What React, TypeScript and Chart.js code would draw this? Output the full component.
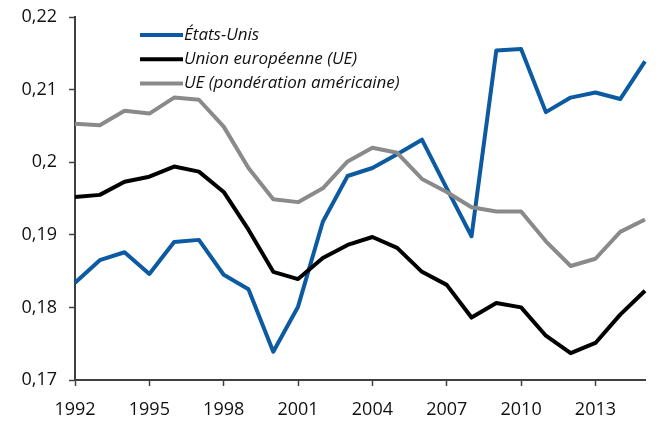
import React, { useEffect, useRef } from "react";
import { Chart, registerables } from "chart.js";

Chart.register(...registerables);

const years = [
  "1992", "1993", "1994", "1995", "1996", "1997", "1998", "1999", "2000", "2001", "2002", "2003",
  "2004", "2005", "2006", "2007", "2008", "2009", "2010", "2011", "2012", "2013", "2014", "2015",
];

const etatsUnis = [
  0.1834, 0.1865, 0.1876, 0.1846, 0.189, 0.1893, 0.1845, 0.1825, 0.1739, 0.1801, 0.1918, 0.1981,
  0.1992, 0.2011, 0.2031, 0.1964, 0.1898, 0.2154, 0.2156, 0.2069, 0.2089, 0.2096, 0.2087, 0.2139,
];

const unionEuropeenne = [
  0.1952, 0.1955, 0.1973, 0.198, 0.1994, 0.1987, 0.1959, 0.1907, 0.1849, 0.1839, 0.1868, 0.1886,
  0.1897, 0.1882, 0.1849, 0.1831, 0.1786, 0.1806, 0.18, 0.1761, 0.1737, 0.1751, 0.179, 0.1823,
];

const uePonderationUS = [
  0.2053, 0.2051, 0.2071, 0.2067, 0.2089, 0.2086, 0.2049, 0.1992, 0.1949, 0.1945, 0.1964, 0.2001,
  0.202, 0.2013, 0.1977, 0.1959, 0.1938, 0.1932, 0.1932, 0.1891, 0.1857, 0.1867, 0.1904, 0.1921,
];

const seriesLabels = ["États-Unis", "Union européenne (UE)", "UE (pondération américaine)"];
const seriesColors = ["#0B5AA2", "#000000", "#8A8A8A"];

const yMin = 0.17;
const yMax = 0.22;
const yStep = 0.01;

const TEXT = "#111111";
const AXIS = "#404040";

const legendPlugin = {
  id: "insideLegend",
  afterDraw(chart: any) {
    const ctx = chart.ctx;
    ctx.save();
    chart.data.datasets.forEach((ds: any, i: number) => {
      const y = 35 + i * 24.2;
      ctx.strokeStyle = ds.borderColor;
      ctx.lineWidth = 4;
      ctx.lineCap = "butt";
      ctx.beginPath();
      ctx.moveTo(140, y);
      ctx.lineTo(183, y);
      ctx.stroke();
      ctx.fillStyle = TEXT;
      ctx.font = "italic 17px 'Open Sans'";
      ctx.textBaseline = "middle";
      ctx.textAlign = "left";
      ctx.fillText(ds.label, 184, y);
    });
    ctx.restore();
  },
};

export default function App() {
  const ref = useRef<HTMLCanvasElement | null>(null);

  useEffect(() => {
    document.body.style.margin = "0";
    if (!ref.current) return;
    const datasets = [etatsUnis, unionEuropeenne, uePonderationUS].map((d, i) => ({
      label: seriesLabels[i],
      data: d,
      borderColor: seriesColors[i],
      backgroundColor: seriesColors[i],
      borderWidth: 4,
      pointRadius: 0,
      tension: 0,
      fill: false,
      borderJoinStyle: "round" as const,
      order: 2 - i,
    }));
    const chart = new Chart(ref.current, {
      type: "line",
      data: { labels: years, datasets },
      options: {
        animation: false,
        responsive: false,
        maintainAspectRatio: false,
        layout: { padding: { left: 0, right: 16, top: 17, bottom: 0 } },
        plugins: { legend: { display: false }, tooltip: { enabled: false } },
        scales: {
          x: {
            type: "category",
            offset: false,
            grid: {
              display: true,
              drawOnChartArea: false,
              drawTicks: true,
              tickLength: 6,
              color: "transparent",
              tickColor: (c: any) => (c.index % 3 === 0 ? AXIS : "transparent"),
              tickWidth: 1.5,
            },
            border: { display: true, color: AXIS, width: 2 },
            ticks: {
              autoSkip: false,
              maxRotation: 0,
              minRotation: 0,
              color: TEXT,
              padding: 13,
              font: { family: "'Open Sans'", size: 18 },
              callback: (_v: any, idx: number) => (idx % 3 === 0 ? years[idx] : ""),
            },
            afterFit: (s: any) => {
              s.height = 43;
              s.paddingLeft = 0;
              s.paddingRight = 0;
            },
          },
          y: {
            min: yMin,
            max: yMax,
            grid: {
              display: true,
              drawOnChartArea: false,
              drawTicks: true,
              tickLength: 6,
              color: "transparent",
              tickColor: AXIS,
              tickWidth: 1.5,
            },
            border: { display: true, color: AXIS, width: 2 },
            ticks: {
              stepSize: yStep,
              color: TEXT,
              padding: 12,
              font: { family: "'Open Sans'", size: 18 },
              callback: (v: any) => String(Math.round(Number(v) * 100) / 100).replace(".", ","),
            },
            afterFit: (s: any) => {
              s.width = 75;
              s.paddingTop = 0;
              s.paddingBottom = 0;
            },
          },
        },
      },
      plugins: [legendPlugin],
    });
    return () => chart.destroy();
  }, []);

  return (
    <div style={{ position: "absolute", left: 0, top: 0, width: 661, height: 423 }}>
      <canvas ref={ref} width={661} height={423} style={{ width: 661, height: 423 }} />
    </div>
  );
}
